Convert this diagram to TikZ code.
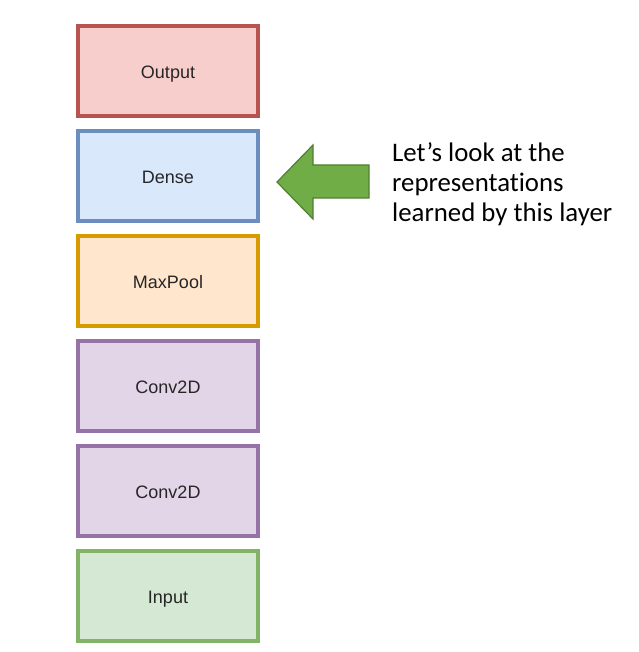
\documentclass[tikz,border=0pt]{standalone}
\usepackage{fontspec}
\setmainfont{Liberation Sans}
\newfontfamily\notefont[Ligatures=NoCommon]{Carlito}
\definecolor{redfill}{HTML}{F8CECC}\definecolor{redline}{HTML}{B85450}
\definecolor{bluefill}{HTML}{DAE8FC}\definecolor{blueline}{HTML}{6C8EBF}
\definecolor{orangefill}{HTML}{FFE6CC}\definecolor{orangeline}{HTML}{D79B00}
\definecolor{purplefill}{HTML}{E1D5E7}\definecolor{purpleline}{HTML}{9673A6}
\definecolor{greenfill}{HTML}{D5E8D4}\definecolor{greenline}{HTML}{82B366}
\definecolor{arrowfill}{HTML}{70AD47}\definecolor{arrowline}{HTML}{507E32}
\begin{document}
\begin{tikzpicture}[x=1pt,y=-1pt,
  layer/.style={draw,line width=3.5pt,minimum width=180pt,minimum height=90pt,inner sep=0pt,
    text height=15pt,text depth=0pt,
    font=\fontsize{18}{20}\selectfont,text=black!85},
  note/.style={anchor=base west,inner sep=0pt,font=\notefont\fontsize{26.8}{30}\selectfont}]
\useasboundingbox (0,0) rectangle (638,652);
\node[layer,fill=redfill,draw=redline] (output) at (168,71) {Output};
\node[layer,fill=bluefill,draw=blueline] (dense) at (168,176) {Dense};
\node[layer,fill=orangefill,draw=orangeline] (maxpool) at (168,281) {MaxPool};
\node[layer,fill=purplefill,draw=purpleline] (conv2) at (168,386) {Conv2D};
\node[layer,fill=purplefill,draw=purpleline] (conv1) at (168,491) {Conv2D};
\node[layer,fill=greenfill,draw=greenline] (input) at (168,596) {Input};
\draw[fill=arrowfill,draw=arrowline,line width=1.2pt,line join=miter]
  (277,182) -- (313,145) -- (313,165) -- (369,165) -- (369,198) -- (313,198) -- (313,219) -- cycle;
\node[note] (l1) at (392,162) {Let’s look at the};
\node[note] (l2) at (392,192) {representations};
\node[note] (l3) at (392,222) {learned by this layer};
\end{tikzpicture}
\end{document}
